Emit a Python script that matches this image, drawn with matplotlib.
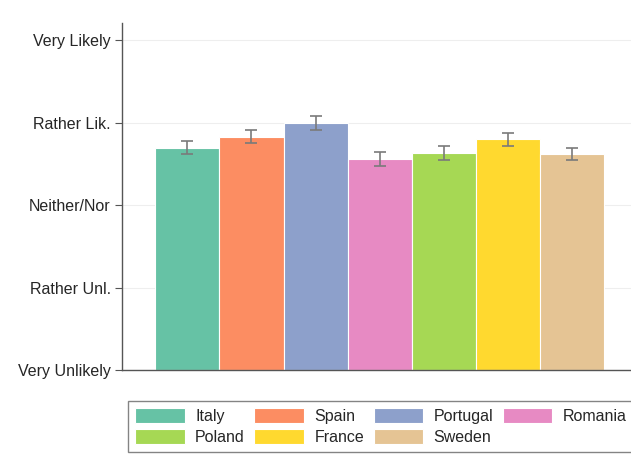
import numpy as np
import matplotlib.pyplot as plt

plt.rcParams['font.family'] = ['Liberation Sans', 'DejaVu Sans']

countries = ['Italy', 'Spain', 'Portugal', 'Romania', 'Poland', 'France', 'Sweden']
means = [3.70, 3.83, 4.00, 3.56, 3.63, 3.80, 3.62]
ci = [0.077, 0.080, 0.083, 0.085, 0.087, 0.079, 0.075]
colors = ['#66c2a5', '#fc8d62', '#8da0cb', '#e78ac3', '#a6d854', '#ffd92f', '#e5c494']
ytick_labels = ['Very Unlikely', 'Rather Unl.', 'Neither/Nor', 'Rather Lik.', 'Very Likely']

fig = plt.figure(figsize=(6.31, 4.54), dpi=100)
ax = fig.add_axes([0.1933, 0.185, 0.8067, 0.764])

x = np.arange(len(countries))
bars = ax.bar(x, np.array(means) - 1, bottom=1, width=1.0, color=colors,
              edgecolor='white', linewidth=0.8, zorder=2)
ax.errorbar(x, means, yerr=ci, fmt='none', ecolor='#7a7a7a', elinewidth=1.2,
            capsize=4, capthick=1.2, zorder=3)

ax.set_ylim(1, 5.21)
ax.set_xlim(-1.02, 6.92)
ax.set_yticks([1, 2, 3, 4, 5])
ax.set_yticklabels(ytick_labels, fontsize=11.5, color='#262626')
ax.set_xticks([])
ax.yaxis.grid(True, color='#eeeeee', linewidth=0.8, zorder=0)
ax.set_axisbelow(True)

for s in ['top', 'right']:
    ax.spines[s].set_visible(False)
for s in ['left', 'bottom']:
    ax.spines[s].set_color('#555555')
    ax.spines[s].set_linewidth(1.0)
ax.tick_params(axis='y', length=5, color='#555555', pad=3)

# legend fills column-wise, so reorder to read row by row
order = [0, 4, 1, 5, 2, 6, 3]
leg = fig.legend([bars[i] for i in order], [countries[i] for i in order],
                 loc='upper left', bbox_to_anchor=(128 / 631, 1 - 401 / 454),
                 ncol=4, fontsize=11.5, frameon=True, fancybox=False,
                 edgecolor='#666666', handlelength=3.1, handleheight=1.05,
                 columnspacing=0.6, handletextpad=0.65, labelspacing=0.3,
                 borderpad=0.45, borderaxespad=0)
leg.get_frame().set_linewidth(1.0)
for t in leg.get_texts():
    t.set_color('#262626')

fig.savefig('out.png', dpi=100)
